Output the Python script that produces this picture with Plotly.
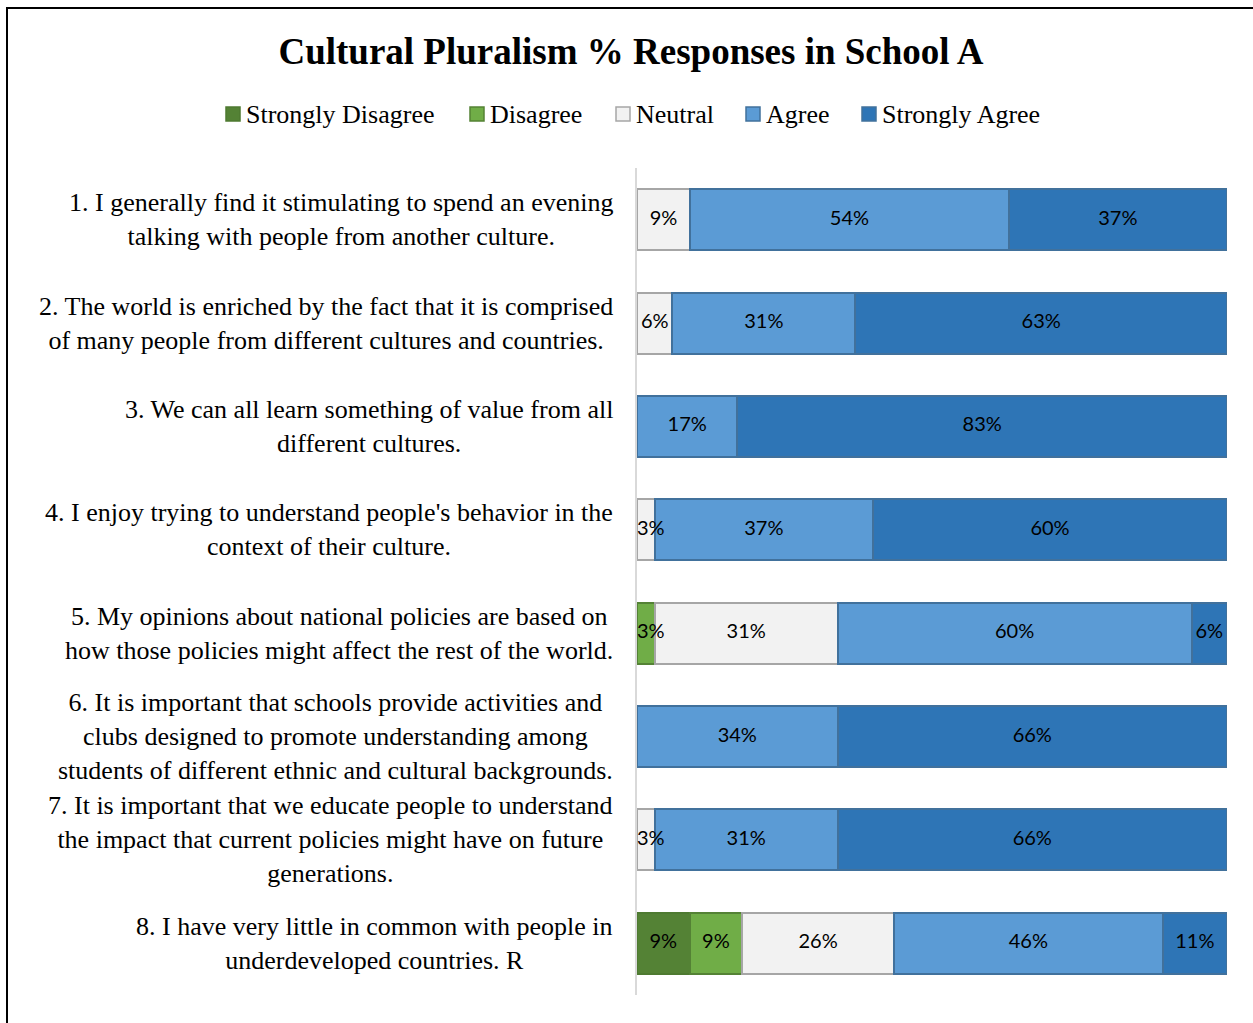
import plotly.graph_objects as go

W, H = 1253, 1023

# Survey items (top to bottom)
statements = [
    "1. I generally find it stimulating to spend an evening<br>talking with people from another culture.",
    "2. The world is enriched by the fact that it is comprised<br>of many people from different cultures and countries.",
    "3. We can all learn something of value from all<br>different cultures.",
    "4. I enjoy trying to understand people's behavior in the<br>context of their culture.",
    "5. My opinions about national policies are based on<br>how those policies might affect the rest of the world.",
    "6. It is important that schools provide activities and<br>clubs designed to promote understanding among<br>students of different ethnic and cultural backgrounds.",
    "7. It is important that we educate people to understand<br>the impact that current policies might have on future<br>generations.",
    "8. I have very little in common with people in<br>underdeveloped countries. R",
]

# Percentage of responses per item (None = no responses)
strongly_disagree = [None, None, None, None, None, None, None, 9]
disagree = [None, None, None, None, 3, None, None, 9]
neutral = [9, 6, None, 3, 31, None, 3, 26]
agree = [54, 31, 17, 37, 60, 34, 31, 46]
strongly_agree = [37, 63, 83, 60, 6, 66, 66, 11]

series_names = ["Strongly Disagree", "Disagree", "Neutral", "Agree", "Strongly Agree"]
series_values = [strongly_disagree, disagree, neutral, agree, strongly_agree]
fill_colors = ["#548235", "#70AD47", "#F2F2F2", "#5B9BD5", "#2E75B6"]
edge_colors = ["#4E7A31", "#548235", "#A6A6A6", "#41719C", "#41719C"]

# Left edge (px) of each legend key square
legend_x = [226, 470, 616, 746, 862]
legend_y = 114

# Pixel layout of the plotting area
px_left, px_right = 637, 1227
px_top, px_bottom = 168, 995

fig = go.Figure()
for name, vals, fill, edge in zip(series_names, series_values, fill_colors, edge_colors):
    fig.add_trace(go.Bar(
        name=name,
        y=statements,
        x=vals,
        orientation="h",
        marker=dict(color=fill, line=dict(color=edge, width=2)),
        hoverinfo="skip",
        showlegend=False,
    ))

# Value labels drawn above all bars, at the centre of each (normalised) segment;
# a narrow first segment keeps its label inside the plot, starting at the axis
totals = [sum(v[i] or 0 for v in series_values) for i in range(len(statements))]
lab_x, lab_y, lab_t, lab_pos = [], [], [], []
for i, s in enumerate(statements):
    start = 0.0
    for vals in series_values:
        v = vals[i]
        if v:
            w = v / totals[i] * 100
            if start == 0 and w < 5:
                lab_x.append(start)
                lab_pos.append("middle right")
            else:
                lab_x.append(start + w / 2)
                lab_pos.append("middle center")
            lab_y.append(s)
            lab_t.append(f"{v}%")
            start += w
fig.add_trace(go.Scatter(
    x=lab_x, y=lab_y, text=lab_t, mode="text",
    textposition=lab_pos, cliponaxis=False,
    textfont=dict(family="Lato", size=20, color="#000000"),
    hoverinfo="skip", showlegend=False,
))

# Statement labels, centred within their own block and right-aligned to the plot
for s in statements:
    fig.add_annotation(
        x=615 / W, xref="paper", xanchor="right",
        y=s, yref="y", yanchor="middle",
        text=s, showarrow=False, align="center",
        font=dict(family="Liberation Serif", size=26, color="#000000"),
    )

# Legend: key square followed by its label
sq = 14
for name, fill, edge, lx in zip(series_names, fill_colors, edge_colors, legend_x):
    fig.add_shape(
        type="rect", xref="paper", yref="paper",
        x0=lx / W, x1=(lx + sq) / W,
        y0=1 - (legend_y + sq / 2) / H, y1=1 - (legend_y - sq / 2) / H,
        fillcolor=fill, line=dict(color=edge, width=1.5),
    )
    fig.add_annotation(
        x=(lx + sq + 4) / W, xref="paper", xanchor="left",
        y=1 - legend_y / H, yref="paper", yanchor="middle",
        text=name, showarrow=False,
        font=dict(family="Liberation Serif", size=26, color="#000000"),
    )

# Outer frame
fig.add_shape(
    type="rect", xref="paper", yref="paper",
    x0=7 / W, x1=1.05, y0=-0.05, y1=1 - 8 / H,
    line=dict(color="#000000", width=2), fillcolor="rgba(0,0,0,0)",
)

fig.update_layout(
    width=W, height=H,
    margin=dict(l=0, r=0, t=0, b=0),
    paper_bgcolor="white", plot_bgcolor="white",
    barmode="stack", barnorm="percent", bargap=0.41,
    title=dict(
        text="<b>Cultural Pluralism % Responses in School A</b>",
        x=631 / W, xanchor="center", y=1 - 51 / H, yanchor="middle",
        font=dict(family="Liberation Serif", size=37, color="#000000"),
    ),
    xaxis=dict(
        domain=[px_left / W, px_right / W], range=[0, 100],
        showgrid=False, zeroline=False, showticklabels=False, showline=False,
    ),
    yaxis=dict(
        domain=[1 - px_bottom / H, 1 - px_top / H], autorange="reversed",
        showgrid=False, zeroline=False, showticklabels=False, ticks="",
        showline=True, linecolor="#D9D9D9", linewidth=2,
    ),
    showlegend=False,
)

fig.write_html("out.html")
